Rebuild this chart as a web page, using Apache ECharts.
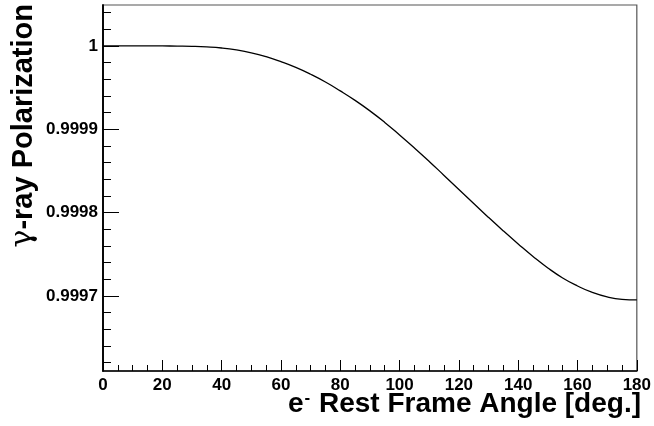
<!DOCTYPE html>
<html>
<head>
<meta charset="utf-8">
<script src="https://cdn.jsdelivr.net/npm/echarts@6/dist/echarts.min.js"></script>
<style>
  html, body { margin: 0; padding: 0; background: #fff; }
  #chart { width: 654px; height: 426px; }
</style>
</head>
<body>
<div id="chart"></div>
<script>
// Electron rest-frame angle (degrees)
const ANGLE = [0, 5, 10, 15, 20, 25, 30, 35, 40, 45, 50, 55, 60, 65, 70, 75, 80, 85, 90,
  95, 100, 105, 110, 115, 120, 125, 130, 135, 140, 145, 150, 155, 160, 165, 170, 175, 180];
// Resulting gamma-ray polarization
const POLARIZATION = [1.0000000, 1.0000000, 1.0000000, 1.0000000, 0.9999999, 0.9999997,
  0.9999994, 0.9999987, 0.9999974, 0.9999951, 0.9999917, 0.9999870, 0.9999810,
  0.9999741, 0.9999659, 0.9999566, 0.9999460, 0.9999346, 0.9999220, 0.9999082,
  0.9998932, 0.9998776, 0.9998614, 0.9998446, 0.9998278, 0.9998110, 0.9997942,
  0.9997780, 0.9997624, 0.9997474, 0.9997336, 0.9997216, 0.9997120, 0.9997042,
  0.9996988, 0.9996959, 0.9996952];
// Labelled ticks on the polarization axis
const Y_MAJOR_TICKS = [0.9997, 0.9998, 0.9999, 1];
const Y_MIN = 0.99961;
const Y_MAX = 1.000049;

// Minor ticks every 0.00002 across the visible range
const Y_MINOR_TICKS = [];
for (let i = 0; i <= 25; i++) {
  const v = +(0.9996 + i * 0.00002).toFixed(5);
  if (v >= Y_MIN && v <= Y_MAX) Y_MINOR_TICKS.push(v);
}

const FONT = '"Liberation Sans", Arial, Helvetica, sans-serif';
const chart = echarts.init(document.getElementById('chart'), null, { renderer: 'canvas' });

const yBase = {
  type: 'value',
  min: Y_MIN,
  max: Y_MAX,
  position: 'left',
  splitLine: { show: false },
  axisLine: { show: true, lineStyle: { color: '#000', width: 1.5 } }
};

chart.setOption({
  animation: false,
  backgroundColor: '#fff',
  grid: {
    left: 103, right: 13, top: 5, bottom: 55,
    show: true, borderColor: '#555', borderWidth: 1.2, backgroundColor: 'transparent'
  },
  xAxis: {
    type: 'value',
    min: 0, max: 180, interval: 20,
    splitLine: { show: false },
    axisLine: { show: true, onZero: false, lineStyle: { color: '#000', width: 1.5 } },
    axisTick: { show: true, inside: true, length: 11, lineStyle: { color: '#000', width: 1 } },
    minorTick: { show: true, splitNumber: 4, length: 6, lineStyle: { color: '#000', width: 1 } },
    axisLabel: {
      show: true, margin: 6, color: '#000',
      fontFamily: FONT, fontWeight: 'bold', fontSize: 17,
      showMinLabel: true, showMaxLabel: true
    }
  },
  yAxis: [
    Object.assign({}, yBase, {
      axisTick: { show: true, inside: true, length: 16, customValues: Y_MAJOR_TICKS,
        lineStyle: { color: '#000', width: 1 } },
      axisLabel: {
        show: true, margin: 5, color: '#000', customValues: Y_MAJOR_TICKS,
        fontFamily: FONT, fontWeight: 'bold', fontSize: 17,
        formatter: v => (Math.abs(v - 1) < 1e-9 ? '1' : v.toFixed(4))
      }
    }),
    Object.assign({}, yBase, {
      axisTick: { show: true, inside: true, length: 8, customValues: Y_MINOR_TICKS,
        lineStyle: { color: '#000', width: 1 } },
      axisLabel: { show: false }
    })
  ],
  series: [{
    type: 'line',
    xAxisIndex: 0,
    yAxisIndex: 0,
    data: ANGLE.map((a, i) => [a, POLARIZATION[i]]),
    showSymbol: false,
    smooth: 0.5,
    lineStyle: { color: '#000', width: 1.3 },
    silent: true
  }],
  graphic: [
    {
      type: 'text',
      x: 23, y: 4,
      rotation: Math.PI / 2,
      style: {
        text: '{g|γ}{b|-ray Polarization}',
        align: 'right',
        verticalAlign: 'middle',
        fill: '#000',
        rich: {
          g: { font: '30px "DejaVu Serif", serif', fill: '#000', verticalAlign: 'bottom' },
          b: { font: 'bold 29px ' + FONT, fill: '#000', verticalAlign: 'bottom' }
        }
      }
    },
    {
      type: 'text',
      x: 641, y: 404,
      style: {
        text: '{b|e}{s|-}{b| Rest Frame Angle [deg.]}',
        align: 'right',
        verticalAlign: 'middle',
        fill: '#000',
        rich: {
          b: { font: 'bold 28px ' + FONT, fill: '#000', verticalAlign: 'bottom' },
          s: { font: 'bold 17px ' + FONT, fill: '#000', verticalAlign: 'bottom', padding: [0, 1, 12, 1] }
        }
      }
    }
  ]
});
</script>
</body>
</html>
